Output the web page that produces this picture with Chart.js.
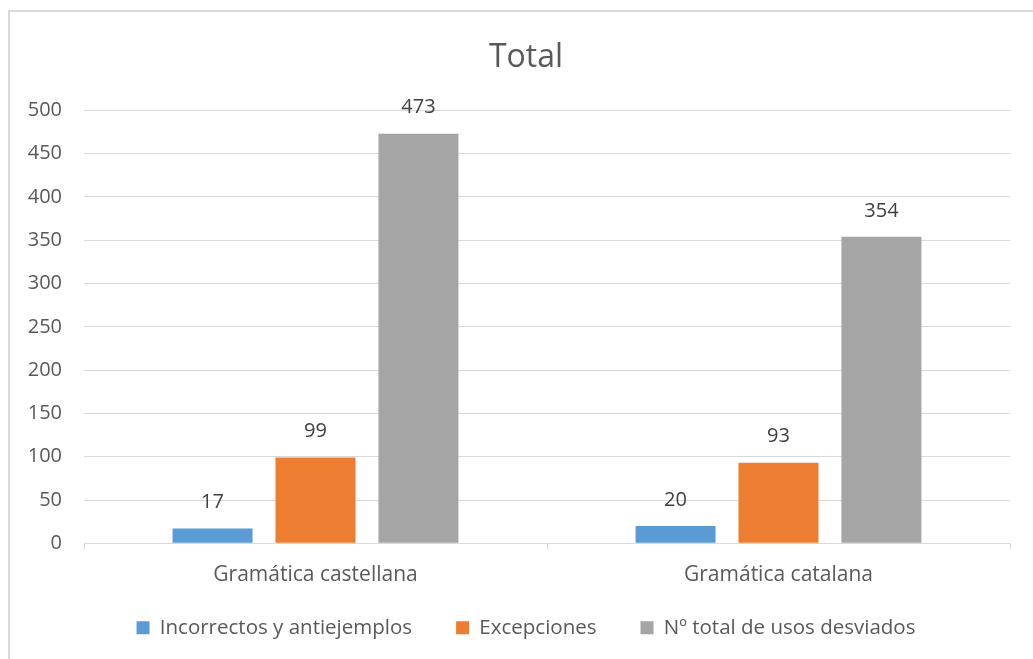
<!DOCTYPE html>
<html>
<head>
<meta charset="utf-8">
<script src="https://cdn.jsdelivr.net/npm/chart.js@4/dist/chart.umd.min.js"></script>
<style>
  body { margin: 0; background: #fff; overflow: hidden; }
  #frame {
    position: absolute; left: 8px; top: 10px; width: 1100px; height: 700px;
    border-left: 2px solid #d9d9d9; border-top: 2px solid #d9d9d9;
  }
  #myChart { position: absolute; left: 0; top: 0; }
</style>
</head>
<body>
<div id="frame"></div>
<canvas id="myChart" width="1033" height="659"></canvas>
<script>
const categories = ["Gramática castellana", "Gramática catalana"];
const incorrectos = [17, 20];
const excepciones = [99, 93];
const totalDesviados = [473, 354];
const yTicks = [0, 50, 100, 150, 200, 250, 300, 350, 400, 450, 500];

const FONT = "'Open Sans', sans-serif";

// draws the value above each bar
const barLabels = {
    id: "barLabels",
    afterDatasetsDraw(chart) {
        const ctx = chart.ctx;
        ctx.save();
        ctx.font = "20px " + FONT;
        ctx.fillStyle = "#404040";
        ctx.textAlign = "center";
        ctx.textBaseline = "middle";
        chart.data.datasets.forEach((ds, i) => {
            chart.getDatasetMeta(i).data.forEach((bar, j) => {
                ctx.fillText(ds.data[j], bar.x, bar.y - 26);
            });
        });
        ctx.restore();
    }
};

// pull the legend a bit closer to the axis labels
const legendUp = {
    id: "legendUp",
    afterLayout(chart) {
        chart.legend.top -= 14;
        chart.legend.bottom -= 14;
    }
};

const myChartRef = document.getElementById("myChart").getContext("2d");

new Chart(myChartRef, {
    type: "bar",
    data: {
        labels: categories,
        datasets: [
            { label: "Incorrectos y antiejemplos", data: incorrectos, backgroundColor: "#5B9BD5" },
            { label: "Excepciones", data: excepciones, backgroundColor: "#ED7D31" },
            { label: "Nº total de usos desviados", data: totalDesviados, backgroundColor: "#A5A5A5" }
        ]
    },
    options: {
        responsive: false,
        animation: false,
        categoryPercentage: 0.667,
        barPercentage: 0.777,
        layout: { padding: { left: 26, right: 7, top: 0, bottom: -3 } },
        plugins: {
            title: {
                display: true,
                text: "Total",
                color: "#595959",
                font: { family: FONT, size: 32, weight: "normal" },
                padding: { top: 39, bottom: 33 }
            },
            legend: {
                position: "bottom",
                labels: {
                    color: "#595959",
                    font: { family: FONT, size: 20.5 },
                    boxWidth: 13,
                    boxHeight: 13,
                    padding: 44
                }
            },
            tooltip: { enabled: false }
        },
        scales: {
            x: {
                afterFit: (scale) => { scale.height -= 13; },
                grid: { drawOnChartArea: false, color: "#d9d9d9", tickLength: 6 },
                border: { color: "#d9d9d9" },
                ticks: { color: "#595959", font: { family: FONT, size: 21 }, padding: 13 }
            },
            y: {
                min: 0,
                max: 500,
                afterBuildTicks: (axis) => { axis.ticks = yTicks.map(v => ({ value: v })); },
                afterFit: (scale) => { scale.width = 58; },
                grid: { color: "#d9d9d9", drawTicks: false },
                border: { display: false },
                ticks: { color: "#595959", font: { family: FONT, size: 20 }, padding: 22 }
            },
            y2: {
                position: "right",
                afterFit: (scale) => { scale.width = 16; },
                grid: { drawOnChartArea: false, drawTicks: false },
                border: { display: false },
                ticks: { display: false }
            }
        }
    },
    plugins: [barLabels, legendUp]
});
</script>
</body>
</html>
